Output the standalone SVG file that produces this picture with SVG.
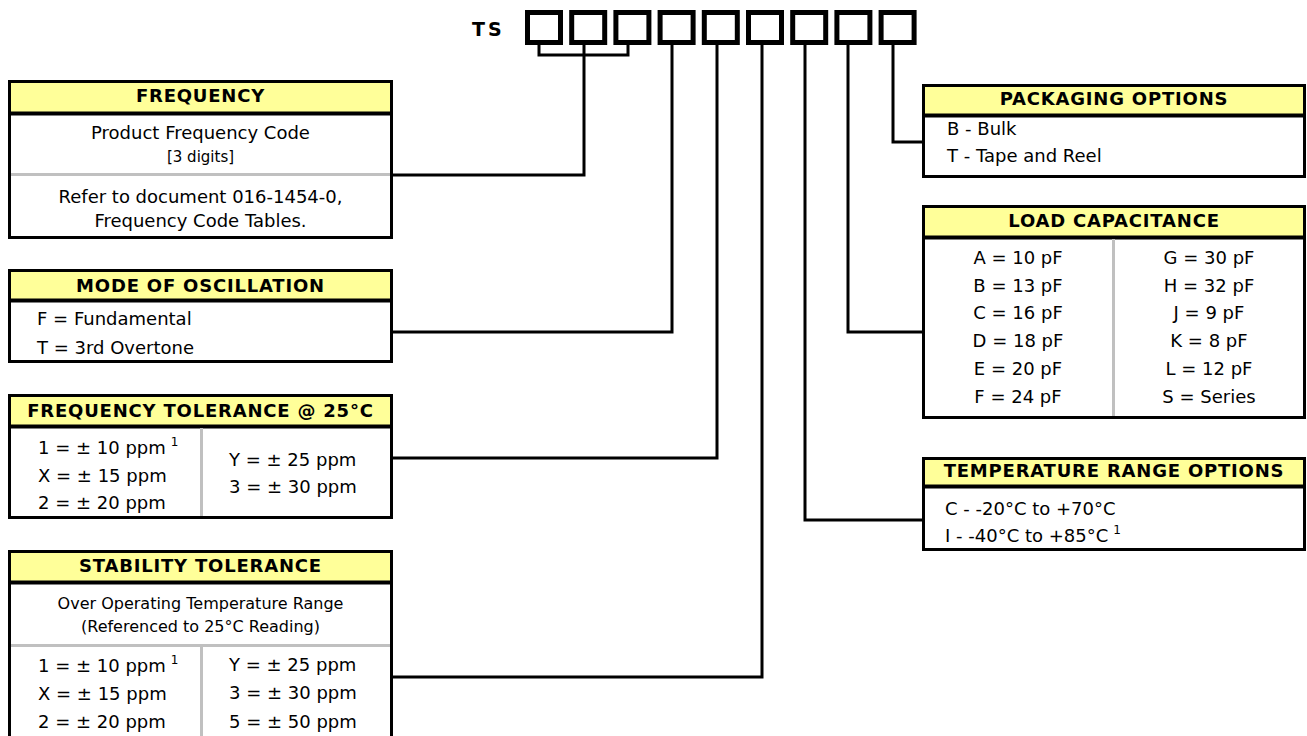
<svg xmlns="http://www.w3.org/2000/svg" width="1307" height="736" viewBox="0 0 1307 736">
<style>
text{font-family:"DejaVu Sans","Verdana",sans-serif;font-size:18px;fill:#000}
.h{font-weight:bold;letter-spacing:0.8px;text-anchor:middle}
.c{text-anchor:middle}
.s16{font-size:16px}
.box{fill:#fff;stroke:#000;stroke-width:3}
.hdr{fill:#FFFF99}
.hl{stroke:#000;stroke-width:4}
.sep{stroke:#C0C0C0;stroke-width:3}
.cell{fill:#fff;stroke:#000;stroke-width:5}
.con{fill:none;stroke:#000;stroke-width:3}
</style>
<rect width="1307" height="736" fill="#fff"/>
<g id="code">
<text x="472" y="36" style="font-weight:bold;font-size:19px;letter-spacing:3px">TS</text>
<rect class="cell" x="527.5" y="12.5" width="33" height="30"/>
<rect class="cell" x="571.7" y="12.5" width="33" height="30"/>
<rect class="cell" x="615.9" y="12.5" width="33" height="30"/>
<rect class="cell" x="660.1" y="12.5" width="33" height="30"/>
<rect class="cell" x="704.3" y="12.5" width="33" height="30"/>
<rect class="cell" x="748.5" y="12.5" width="33" height="30"/>
<rect class="cell" x="792.7" y="12.5" width="33" height="30"/>
<rect class="cell" x="836.9" y="12.5" width="33" height="30"/>
<rect class="cell" x="881.1" y="12.5" width="33" height="30"/>
</g>
<g id="connectors">
<polyline class="con" points="539,45 539,55 628,55 628,45"/>
<polyline class="con" points="584,45 584,175 393,175"/>
<polyline class="con" points="672,45 672,332 393,332"/>
<polyline class="con" points="717,45 717,458 393,458"/>
<polyline class="con" points="762,45 762,677 393,677"/>
<polyline class="con" points="805,45 805,520 922,520"/>
<polyline class="con" points="848,45 848,332 922,332"/>
<polyline class="con" points="893,45 893,142 922,142"/>
</g>
<g id="frequency">
<rect class="box" x="9.5" y="81.5" width="382" height="156"/>
<rect class="hdr" x="11" y="83" width="379" height="30"/>
<line class="hl" x1="8" y1="113.5" x2="393" y2="113.5"/>
<line class="sep" x1="11" y1="174.5" x2="390" y2="174.5"/>
<text class="h" x="200.5" y="102">FREQUENCY</text>
<text class="c" x="200.5" y="139">Product Frequency Code</text>
<text class="c" x="200.5" y="162" style="font-size:15px">[3 digits]</text>
<text class="c" x="200.5" y="203">Refer to document 016-1454-0,</text>
<text class="c" x="200.5" y="227">Frequency Code Tables.</text>
</g>
<g id="mode">
<rect class="box" x="9.5" y="270.5" width="382" height="91"/>
<rect class="hdr" x="11" y="272" width="379" height="28"/>
<line class="hl" x1="8" y1="300.5" x2="393" y2="300.5"/>
<text class="h" x="200.5" y="292">MODE OF OSCILLATION</text>
<text x="37" y="325">F = Fundamental</text>
<text x="37" y="354">T = 3rd Overtone</text>
</g>
<g id="freqtol">
<rect class="box" x="9.5" y="395.5" width="382" height="122"/>
<rect class="hdr" x="11" y="397" width="379" height="29"/>
<line class="hl" x1="8" y1="426.5" x2="393" y2="426.5"/>
<line class="sep" x1="201.5" y1="428" x2="201.5" y2="516"/>
<text class="h" x="200.5" y="417">FREQUENCY TOLERANCE @ 25°C</text>
<text x="38" y="454">1 = ± 10 ppm<tspan dx="5" dy="-8" style="font-size:12px">1</tspan></text>
<text x="38" y="482">X = ± 15 ppm</text>
<text x="38" y="509">2 = ± 20 ppm</text>
<text x="229" y="466">Y = ± 25 ppm</text>
<text x="229" y="493">3 = ± 30 ppm</text>
</g>
<g id="stability">
<path class="box" d="M9.5,740 V551.5 H391.5 V740"/>
<rect class="hdr" x="11" y="553" width="379" height="29"/>
<line class="hl" x1="8" y1="582.5" x2="393" y2="582.5"/>
<line class="sep" x1="11" y1="645.5" x2="390" y2="645.5"/>
<line class="sep" x1="201.5" y1="647" x2="201.5" y2="736"/>
<text class="h" x="200.5" y="572">STABILITY TOLERANCE</text>
<text class="c s16" x="200.5" y="609">Over Operating Temperature Range</text>
<text class="c s16" x="200.5" y="632">(Referenced to 25°C Reading)</text>
<text x="38" y="672">1 = ± 10 ppm<tspan dx="5" dy="-8" style="font-size:12px">1</tspan></text>
<text x="38" y="700">X = ± 15 ppm</text>
<text x="38" y="728">2 = ± 20 ppm</text>
<text x="229" y="671">Y = ± 25 ppm</text>
<text x="229" y="699">3 = ± 30 ppm</text>
<text x="229" y="728">5 = ± 50 ppm</text>
</g>
<g id="packaging">
<rect class="box" x="923.5" y="85.5" width="381" height="91"/>
<rect class="hdr" x="925" y="87" width="378" height="28"/>
<line class="hl" x1="922" y1="115.5" x2="1306" y2="115.5"/>
<text class="h" x="1114" y="105">PACKAGING OPTIONS</text>
<text x="947" y="135">B - Bulk</text>
<text x="947" y="162">T - Tape and Reel</text>
</g>
<g id="load">
<rect class="box" x="923.5" y="206.5" width="381" height="211"/>
<rect class="hdr" x="925" y="208" width="378" height="29"/>
<line class="hl" x1="922" y1="237.5" x2="1306" y2="237.5"/>
<line class="sep" x1="1113.5" y1="239" x2="1113.5" y2="416"/>
<text class="h" x="1114" y="227">LOAD CAPACITANCE</text>
<text class="c" x="1018" y="264">A = 10 pF</text>
<text class="c" x="1018" y="292">B = 13 pF</text>
<text class="c" x="1018" y="319">C = 16 pF</text>
<text class="c" x="1018" y="347">D = 18 pF</text>
<text class="c" x="1018" y="375">E = 20 pF</text>
<text class="c" x="1018" y="403">F = 24 pF</text>
<text class="c" x="1209" y="264">G = 30 pF</text>
<text class="c" x="1209" y="292">H = 32 pF</text>
<text class="c" x="1209" y="319">J = 9 pF</text>
<text class="c" x="1209" y="347">K = 8 pF</text>
<text class="c" x="1209" y="375">L = 12 pF</text>
<text class="c" x="1209" y="403">S = Series</text>
</g>
<g id="temperature">
<rect class="box" x="923.5" y="458.5" width="381" height="91"/>
<rect class="hdr" x="925" y="460" width="378" height="26"/>
<line class="hl" x1="922" y1="486.5" x2="1306" y2="486.5"/>
<text class="h" x="1114" y="477">TEMPERATURE RANGE OPTIONS</text>
<text x="945" y="515">C - -20°C to +70°C</text>
<text x="945" y="542">I - -40°C to +85°C<tspan dx="5" dy="-8" style="font-size:12px">1</tspan></text>
</g>
</svg>
